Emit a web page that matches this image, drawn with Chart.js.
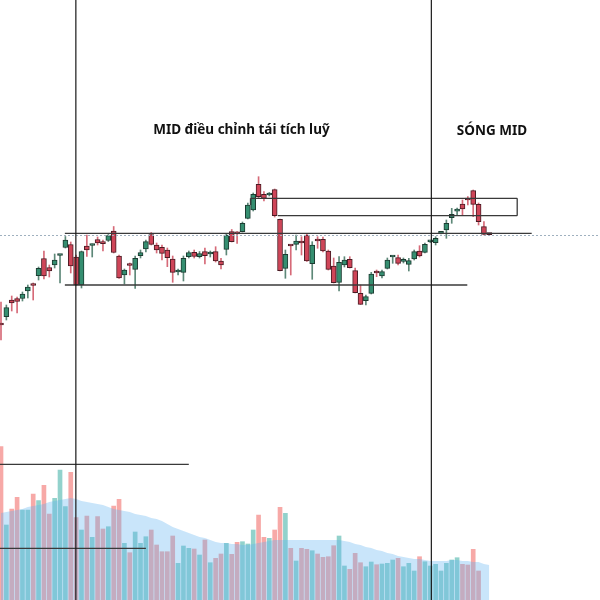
<!DOCTYPE html>
<html lang="vi">
<head>
<meta charset="utf-8">
<title>MID</title>
<script src="https://cdn.jsdelivr.net/npm/chart.js@4.4.1/dist/chart.umd.min.js"></script>
<style>
  html, body { margin: 0; padding: 0; background: #fff; }
  #wrap { width: 600px; height: 600px; }
</style>
</head>
<body>
<div id="wrap"><canvas id="chartMID" width="600" height="600"></canvas></div>
<script>
// Dữ liệu nến (giá, nghìn đồng)
const opens = [
  27.7, 28.33, 30.0, 30.15, 30.15, 30.9, 31.65, 32.43, 34.15, 33.25,
  33.5, 34.45, 35.25, 35.55, 34.3, 31.5, 35.4, 35.45, 36.05, 35.7,
  35.95, 36.9, 34.4, 32.5, 33.52, 33.07, 34.43, 35.1, 36.55, 35.5,
  35.27, 35.0, 34.1, 32.8, 32.77, 34.33, 34.77, 34.33, 34.83, 34.6,
  34.83, 33.9, 35.07, 36.83, 36.67, 36.83, 38.17, 39.0, 41.57, 40.57,
  40.5, 41.03, 38.07, 33.17, 35.45, 35.57, 35.75, 36.5, 33.63, 35.95,
  36.07, 34.9, 33.4, 31.77, 33.5, 34.07, 32.93, 30.67, 29.93, 30.67,
  32.75, 32.4, 33.17, 34.3, 34.23, 33.85, 33.57, 34.1, 34.9, 34.77,
  35.81, 35.73, 36.67, 37.0, 38.23, 38.88, 39.6, 40.1, 40.93, 39.57,
  37.33, 36.57,
];
const highs = [
  29.8, 29.5, 30.4, 30.3, 30.8, 31.5, 31.7, 33.3, 34.9, 33.5,
  34.6, 34.55, 36.35, 35.8, 34.5, 34.9, 36.5, 35.6, 36.3, 36.0,
  36.55, 37.35, 34.5, 33.1, 33.7, 34.4, 35.0, 36.0, 36.75, 35.7,
  35.5, 35.2, 34.4, 33.1, 34.4, 34.9, 35.0, 34.85, 35.2, 34.9,
  35.33, 34.17, 36.63, 37.05, 36.85, 37.8, 39.7, 40.7, 42.33, 40.83,
  40.75, 41.1, 38.1, 35.0, 35.5, 36.5, 36.33, 36.6, 35.83, 36.33,
  36.3, 35.0, 34.2, 34.33, 34.33, 34.33, 33.2, 31.5, 30.5, 32.77,
  33.0, 33.0, 34.2, 34.4, 34.5, 34.2, 34.17, 35.0, 35.43, 35.7,
  35.9, 36.33, 36.83, 38.0, 39.17, 39.2, 40.0, 40.33, 41.0, 39.7,
  37.83, 36.6,
];
const lows = [
  26.0, 28.0, 28.9, 28.7, 29.9, 30.2, 30.0, 32.0, 32.1, 32.3,
  33.2, 31.7, 35.2, 32.7, 31.45, 31.2, 34.35, 34.3, 35.5, 34.9,
  35.85, 34.7, 32.15, 31.6, 32.5, 31.15, 34.2, 34.8, 35.5, 34.7,
  34.0, 33.33, 31.77, 32.5, 31.9, 34.2, 34.2, 34.2, 33.6, 34.3,
  33.8, 33.1, 34.5, 35.8, 35.67, 36.8, 38.1, 38.9, 40.2, 39.9,
  40.4, 38.3, 32.9, 32.17, 32.5, 35.0, 34.5, 33.85, 32.07, 35.17,
  34.8, 33.0, 31.7, 30.9, 33.3, 33.2, 30.7, 29.55, 29.5, 30.6,
  32.33, 32.2, 33.1, 33.67, 33.5, 33.7, 32.9, 34.0, 34.3, 34.7,
  35.75, 35.5, 36.6, 36.17, 37.67, 38.5, 38.5, 39.5, 38.33, 37.5,
  36.5, 36.5,
];
const closes = [
  27.5, 29.23, 29.7, 29.85, 30.6, 31.3, 31.45, 33.17, 32.4, 32.9,
  34.0, 34.5, 36.0, 33.4, 31.5, 34.85, 35.0, 35.5, 35.7, 35.64,
  36.43, 34.75, 32.2, 33.0, 33.45, 34.17, 34.73, 35.83, 35.57, 35.0,
  34.67, 34.23, 32.77, 32.85, 34.17, 34.73, 34.35, 34.65, 34.43, 34.65,
  33.9, 33.5, 36.5, 35.83, 36.62, 37.67, 39.5, 40.57, 40.33, 40.17,
  40.67, 38.43, 32.93, 34.57, 35.4, 35.9, 35.7, 33.9, 35.5, 35.9,
  34.9, 33.07, 31.73, 33.77, 34.0, 33.23, 30.73, 29.57, 30.33, 32.6,
  32.7, 32.83, 34.0, 34.33, 33.67, 34.07, 33.93, 34.83, 34.4, 35.57,
  35.85, 36.17, 36.72, 37.67, 38.57, 38.92, 39.1, 40.0, 39.57, 37.83,
  36.57, 36.53,
];

// Khối lượng (nghìn cp) và đường trung bình khối lượng
const volumes = [
  2033, 1250, 1410, 1527, 1400, 1400, 1560, 1493, 1647, 1360,
  1517, 1800, 1433, 1777, 1323, 1200, 1340, 1127, 1333, 1210,
  1233, 1440, 1507, 1067, 973, 1180, 1067, 1133, 1200, 1050,
  983, 983, 1140, 867, 1040, 1017, 1010, 950, 1100, 873,
  917, 960, 1067, 957, 1077, 1083, 1060, 1200, 1350, 1127,
  1117, 1200, 1427, 1367, 1017, 890, 1017, 1007, 993, 960,
  927, 933, 1043, 1140, 840, 807, 967, 873, 833, 880,
  853, 860, 867, 900, 917, 833, 867, 790, 933, 883,
  840, 857, 790, 867, 900, 923, 857, 850, 1007, 790,
  300, 200,
];
const volumeMA = [
  1370, 1380, 1390, 1400, 1410, 1430, 1440, 1450, 1460, 1480,
  1490, 1500, 1510, 1520, 1510, 1490, 1480, 1470, 1460, 1450,
  1430, 1410, 1400, 1390, 1380, 1360, 1350, 1340, 1320, 1310,
  1290, 1260, 1230, 1210, 1190, 1170, 1150, 1130, 1120, 1100,
  1080, 1070, 1070, 1060, 1060, 1050, 1050, 1060, 1070, 1080,
  1090, 1100, 1100, 1100, 1100, 1100, 1100, 1100, 1100, 1100,
  1100, 1100, 1100, 1100, 1090, 1080, 1060, 1050, 1030, 1020,
  1000, 990, 970, 960, 940, 930, 920, 910, 910, 900,
  890, 890, 890, 890, 900, 900, 890, 890, 880, 880,
  860, 850,
];

// Số thứ tự phiên
const sessions = opens.map((_, i) => i);

// Các mốc vẽ tay trên hình (theo phiên / giá / khối lượng)
const currentPrice = 36.55;
const sideways = { from: 11.9, to: 98.9, top: 36.67 };
const sidewaysLow = { from: 11.9, to: 86.9, price: 31.5 };
const supplyBox = { from: 46.5, bottomFrom: 51.6, to: 96.2, top: 40.17, bottom: 38.43, tick: 39.5 };
const phaseLines = [13.95, 80.2];
const volumeLevels = [
  { from: -0.2, to: 35.0, vol: 1857 },
  { from: -0.2, to: 27.0, vol: 1017 },
];
const notes = [
  { text: "MID điều chỉnh tái tích luỹ", session: 44.8, price: 46.65 },
  { text: "SÓNG MID", session: 91.5, price: 46.55 },
];

const isUp = sessions.map((i) => closes[i] >= opens[i]);

// Vẽ các đường kẻ và chữ chú thích
const drawingsPlugin = {
  id: "drawings",
  afterDatasetsDraw(chart) {
    const { ctx, scales, chartArea } = chart;
    const x = scales.x;
    const yP = scales.yPrice;
    const yV = scales.yVol;

    function seg(x1, y1, x2, y2) {
      ctx.beginPath();
      ctx.moveTo(x1, y1);
      ctx.lineTo(x2, y2);
      ctx.stroke();
    }

    ctx.save();
    // đường giá hiện tại (chấm)
    ctx.strokeStyle = "#9fb0bf";
    ctx.lineWidth = 1;
    ctx.setLineDash([2, 2]);
    const yc = Math.round(yP.getPixelForValue(currentPrice)) + 0.5;
    seg(chartArea.left, yc, chartArea.right, yc);
    ctx.setLineDash([]);

    // vùng đi ngang
    ctx.strokeStyle = "#3a3a3a";
    ctx.lineWidth = 1.3;
    let y = yP.getPixelForValue(sideways.top);
    seg(x.getPixelForValue(sideways.from), y, x.getPixelForValue(sideways.to), y);
    y = yP.getPixelForValue(sidewaysLow.price);
    seg(x.getPixelForValue(sidewaysLow.from), y, x.getPixelForValue(sidewaysLow.to), y);

    // hộp cung
    const bx1 = x.getPixelForValue(supplyBox.from);
    const bx2 = x.getPixelForValue(supplyBox.to);
    const bxb = x.getPixelForValue(supplyBox.bottomFrom);
    const bt = yP.getPixelForValue(supplyBox.top);
    const bb = yP.getPixelForValue(supplyBox.bottom);
    seg(bx1, yP.getPixelForValue(supplyBox.tick), bx1, bt);
    seg(bx1, bt, bx2, bt);
    seg(bx2, bt, bx2, bb);
    seg(bx2, bb, bxb, bb);

    // mốc khối lượng
    volumeLevels.forEach((l) => {
      const yy = yV.getPixelForValue(l.vol);
      seg(x.getPixelForValue(l.from), yy, x.getPixelForValue(l.to), yy);
    });

    // đường chia giai đoạn
    ctx.strokeStyle = "#1a1a1a";
    ctx.lineWidth = 1.2;
    phaseLines.forEach((s) => {
      const xx = x.getPixelForValue(s);
      seg(xx, chartArea.top, xx, chartArea.bottom);
    });

    // chữ
    ctx.fillStyle = "#111";
    ctx.font = "bold 13.5px 'Noto Sans', 'Open Sans', sans-serif";
    ctx.textAlign = "center";
    ctx.textBaseline = "alphabetic";
    notes.forEach((n) => {
      ctx.fillText(n.text, x.getPixelForValue(n.session), yP.getPixelForValue(n.price));
    });
    ctx.restore();
  },
};

function loadChart() {
  const ctx = document.getElementById("chartMID").getContext("2d");
  const chart = new Chart(ctx, {
    type: "bar",
    data: {
      datasets: [
        {
          type: "line",
          label: "MA khối lượng",
          data: sessions.map((i) => ({ x: i, y: volumeMA[i] })),
          yAxisID: "yVol",
          fill: "start",
          backgroundColor: "rgba(96, 178, 240, 0.34)",
          borderColor: "transparent",
          borderWidth: 0,
          pointRadius: 0,
          tension: 0,
          order: 0,
        },
        {
          label: "Khối lượng",
          data: sessions.map((i) => ({ x: i, y: volumes[i] })),
          yAxisID: "yVol",
          backgroundColor: isUp.map((u) =>
            u ? "rgba(38, 166, 154, 0.5)" : "rgba(239, 83, 80, 0.5)"
          ),
          barThickness: 4,
          grouped: false,
          order: 1,
        },
        {
          label: "Thân nến",
          data: sessions.map((i) => ({ x: i, y: [opens[i], closes[i]] })),
          yAxisID: "yPrice",
          backgroundColor: isUp.map((u) => (u ? "#358e70" : "#cf4558")),
          borderColor: isUp.map((u) => (u ? "#1d3b31" : "#4a1c24")),
          borderWidth: 1,
          borderSkipped: false,
          minBarLength: 2,
          barThickness: 5,
          grouped: false,
          order: 2,
        },
        {
          label: "Râu nến",
          data: sessions.map((i) => ({ x: i, y: [lows[i], highs[i]] })),
          yAxisID: "yPrice",
          backgroundColor: isUp.map((u) => (u ? "#5d8878" : "#d66a78")),
          barThickness: 1,
          grouped: false,
          order: 3,
        },
      ],
    },
    options: {
      responsive: false,
      animation: false,
      layout: { padding: 0 },
      plugins: {
        legend: { display: false },
      },
      scales: {
        x: { type: "linear", offset: false, min: -0.186, max: 111.63, display: false },
        yPrice: { type: "linear", position: "left", min: 0, max: 60, display: false },
        yVol: { type: "linear", position: "right", min: 500, max: 6500, display: false },
      },
    },
    plugins: [drawingsPlugin],
  });
}

document.addEventListener("DOMContentLoaded", loadChart);
</script>
</body>
</html>
